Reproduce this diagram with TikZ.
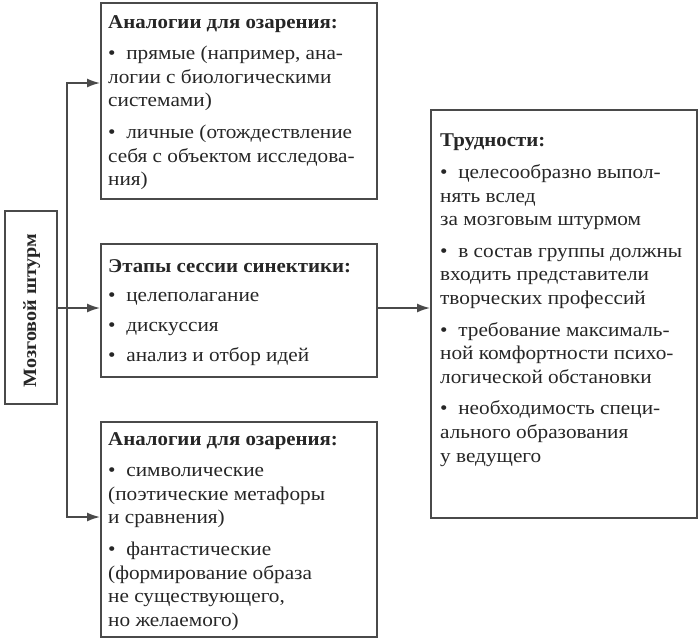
\documentclass[tikz,border=0pt]{standalone}
\usepackage{fontspec}
\setmainfont[FakeStretch=1.09,BoldFeatures={FakeStretch=1.07}]{Liberation Serif}
\usetikzlibrary{arrows.meta,calc}
\definecolor{ln}{HTML}{4A4A4A}
\definecolor{tx}{HTML}{262626}
\tikzset{
  box/.style={draw=ln, line width=1.6pt, anchor=north west, inner sep=0pt},
  txt/.style={anchor=north west, inner sep=0pt, align=left, text=tx,
    font=\fontsize{19.5}{23.8}\selectfont},
  arr/.style={draw=ln, line width=1.6pt, -{Latex[length=13pt,width=9pt]}},
}
\newcommand\bul{\textbullet\hspace{0.55em}}
\newcommand\gp{\\[7.5pt]}
\begin{document}
\begin{tikzpicture}[x=1pt,y=-1pt]
\useasboundingbox (0,0) rectangle (698,638);
% boxes
\node[box, minimum width=276pt, minimum height=196pt] (b1) at (100,2) {};
\node[box, minimum width=276pt, minimum height=133pt] (b2) at (100,243) {};
\node[box, minimum width=276pt, minimum height=215pt] (b3) at (100,421) {};
\node[box, minimum width=266pt, minimum height=408pt] (r) at (430,109) {};
\node[box, minimum width=52pt, minimum height=193pt] (L) at (4,210) {};
% texts
\node[txt] (t1) at (108,15) {\textbf{Аналогии для озарения:}\gp
\bul прямые (например, ана-\\логии с биологическими\\системами)\gp
\bul личные (отождествление\\себя с объектом исследова-\\ния)};
\node[txt] (t2) at (108,259) {\textbf{Этапы сессии синектики:}\\[6pt]
\bul целеполагание\\[6pt]
\bul дискуссия\\[6pt]
\bul анализ и отбор идей};
\node[txt] (t3) at (108,432) {\textbf{Аналогии для озарения:}\gp
\bul символические\\(поэтические метафоры\\и сравнения)\gp
\bul фантастические\\(формирование образа\\не существующего,\\но желаемого)};
\node[txt] (t4) at (440,134) {\textbf{Трудности:}\gp
\bul целесообразно выпол-\\нять вслед\\за мозговым штурмом\gp
\bul в состав группы должны\\входить представители\\творческих профессий\gp
\bul требование максималь-\\ной комфортности психо-\\логической обстановки\gp
\bul необходимость специ-\\ального образования\\у ведущего};
\node[rotate=90, text=tx, font=\fontsize{18.8}{23}\selectfont\bfseries] (lt) at ($(L.center)+(1,3)$) {Мозговой штурм};
% connectors
\coordinate (bus) at (67,308);
\coordinate (a1) at (100,83);
\coordinate (a3) at (100,517);
\draw[arr] (L.east |- bus) -- (bus -| b2.west);
\draw[arr] (bus) |- (a1);
\draw[arr] (bus) |- (a3);
\draw[arr] (b2.east |- bus) -- (bus -| r.west);
\end{tikzpicture}
\end{document}
